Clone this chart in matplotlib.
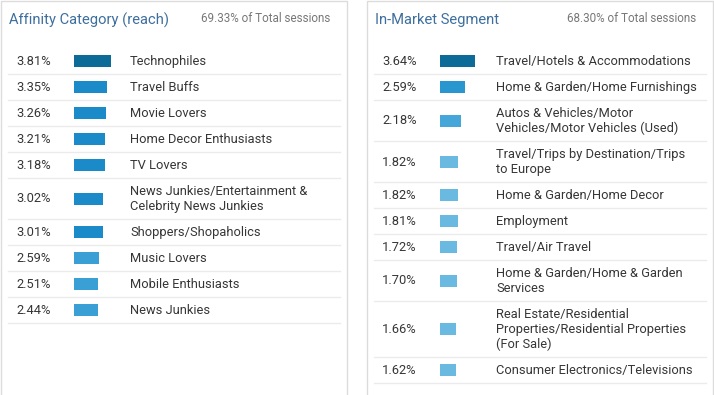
import matplotlib
matplotlib.use('Agg')
import matplotlib.pyplot as plt
from matplotlib.patches import Rectangle

plt.rcParams['font.family'] = ['Roboto', 'DejaVu Sans']

# --- data ---
aff_title = 'Affinity Category (reach)'
aff_total = '69.33% of Total sessions'
aff_values = [3.81, 3.35, 3.26, 3.21, 3.18, 3.02, 3.01, 2.59, 2.51, 2.44]
aff_labels = ['Technophiles', 'Travel Buffs', 'Movie Lovers', 'Home Decor Enthusiasts',
              'TV Lovers', 'News Junkies/Entertainment &\nCelebrity News Junkies',
              'Shoppers/Shopaholics', 'Music Lovers', 'Mobile Enthusiasts', 'News Junkies']

mkt_title = 'In-Market Segment'
mkt_total = '68.30% of Total sessions'
mkt_values = [3.64, 2.59, 2.18, 1.82, 1.82, 1.81, 1.72, 1.70, 1.66, 1.62]
mkt_labels = ['Travel/Hotels & Accommodations', 'Home & Garden/Home Furnishings',
              'Autos & Vehicles/Motor\nVehicles/Motor Vehicles (Used)',
              'Travel/Trips by Destination/Trips\nto Europe', 'Home & Garden/Home Decor',
              'Employment', 'Travel/Air Travel', 'Home & Garden/Home & Garden\nServices',
              'Real Estate/Residential\nProperties/Residential Properties\n(For Sale)',
              'Consumer Electronics/Televisions']

# bar shades, darkest for the top row
aff_colors = ['#0d6b97'] + ['#1a8bc8'] * 6 + ['#3a9fd5'] * 3
mkt_colors = ['#0d6b97', '#2a96cf', '#45a6d9'] + ['#6ab9e0'] * 7

W, H = 714, 395
PX_PER_PCT = 9.75
ROW_H = 26
LINE_H = 15

fig = plt.figure(figsize=(W / 100, H / 100), dpi=100)
ax = fig.add_axes([0, 0, 1, 1])
ax.set_xlim(0, W)
ax.set_ylim(H, 0)
ax.axis('off')


def panel(x0, x1, title, total, values, labels, colors):
    ax.add_patch(Rectangle((x0, 1), x1 - x0, H + 5, fill=False,
                           edgecolor='#dcdcdc', linewidth=1))
    ax.text(x0 + 8, 20, title, fontsize=10.6, color='#3d6f9e', va='center', ha='left')
    ax.text(x1 - 17, 18, total, fontsize=8.4, color='#777777', va='center', ha='right')
    y = 48
    for v, lab, c in zip(values, labels, colors):
        n = lab.count('\n') + 1
        h = ROW_H + LINE_H * (n - 1)
        yc = y + h / 2
        ax.text(x0 + 15, yc + 0.5, f'{v:.2f}%', fontsize=9.3, color='#363636',
                va='center', ha='left')
        ax.barh(yc, v * PX_PER_PCT, height=12, left=x0 + 73, color=c)
        ax.text(x0 + 129, yc + 0.5, lab, fontsize=9.3, color='#363636', va='center',
                ha='left', linespacing=1.15)
        y += h
        ax.plot([x0 + 7, x1 - 7], [y, y], color='#ebebeb', linewidth=1)


panel(1, 347, aff_title, aff_total, aff_values, aff_labels, aff_colors)
panel(367, 713, mkt_title, mkt_total, mkt_values, mkt_labels, mkt_colors)

fig.savefig('out.png', dpi=100)
